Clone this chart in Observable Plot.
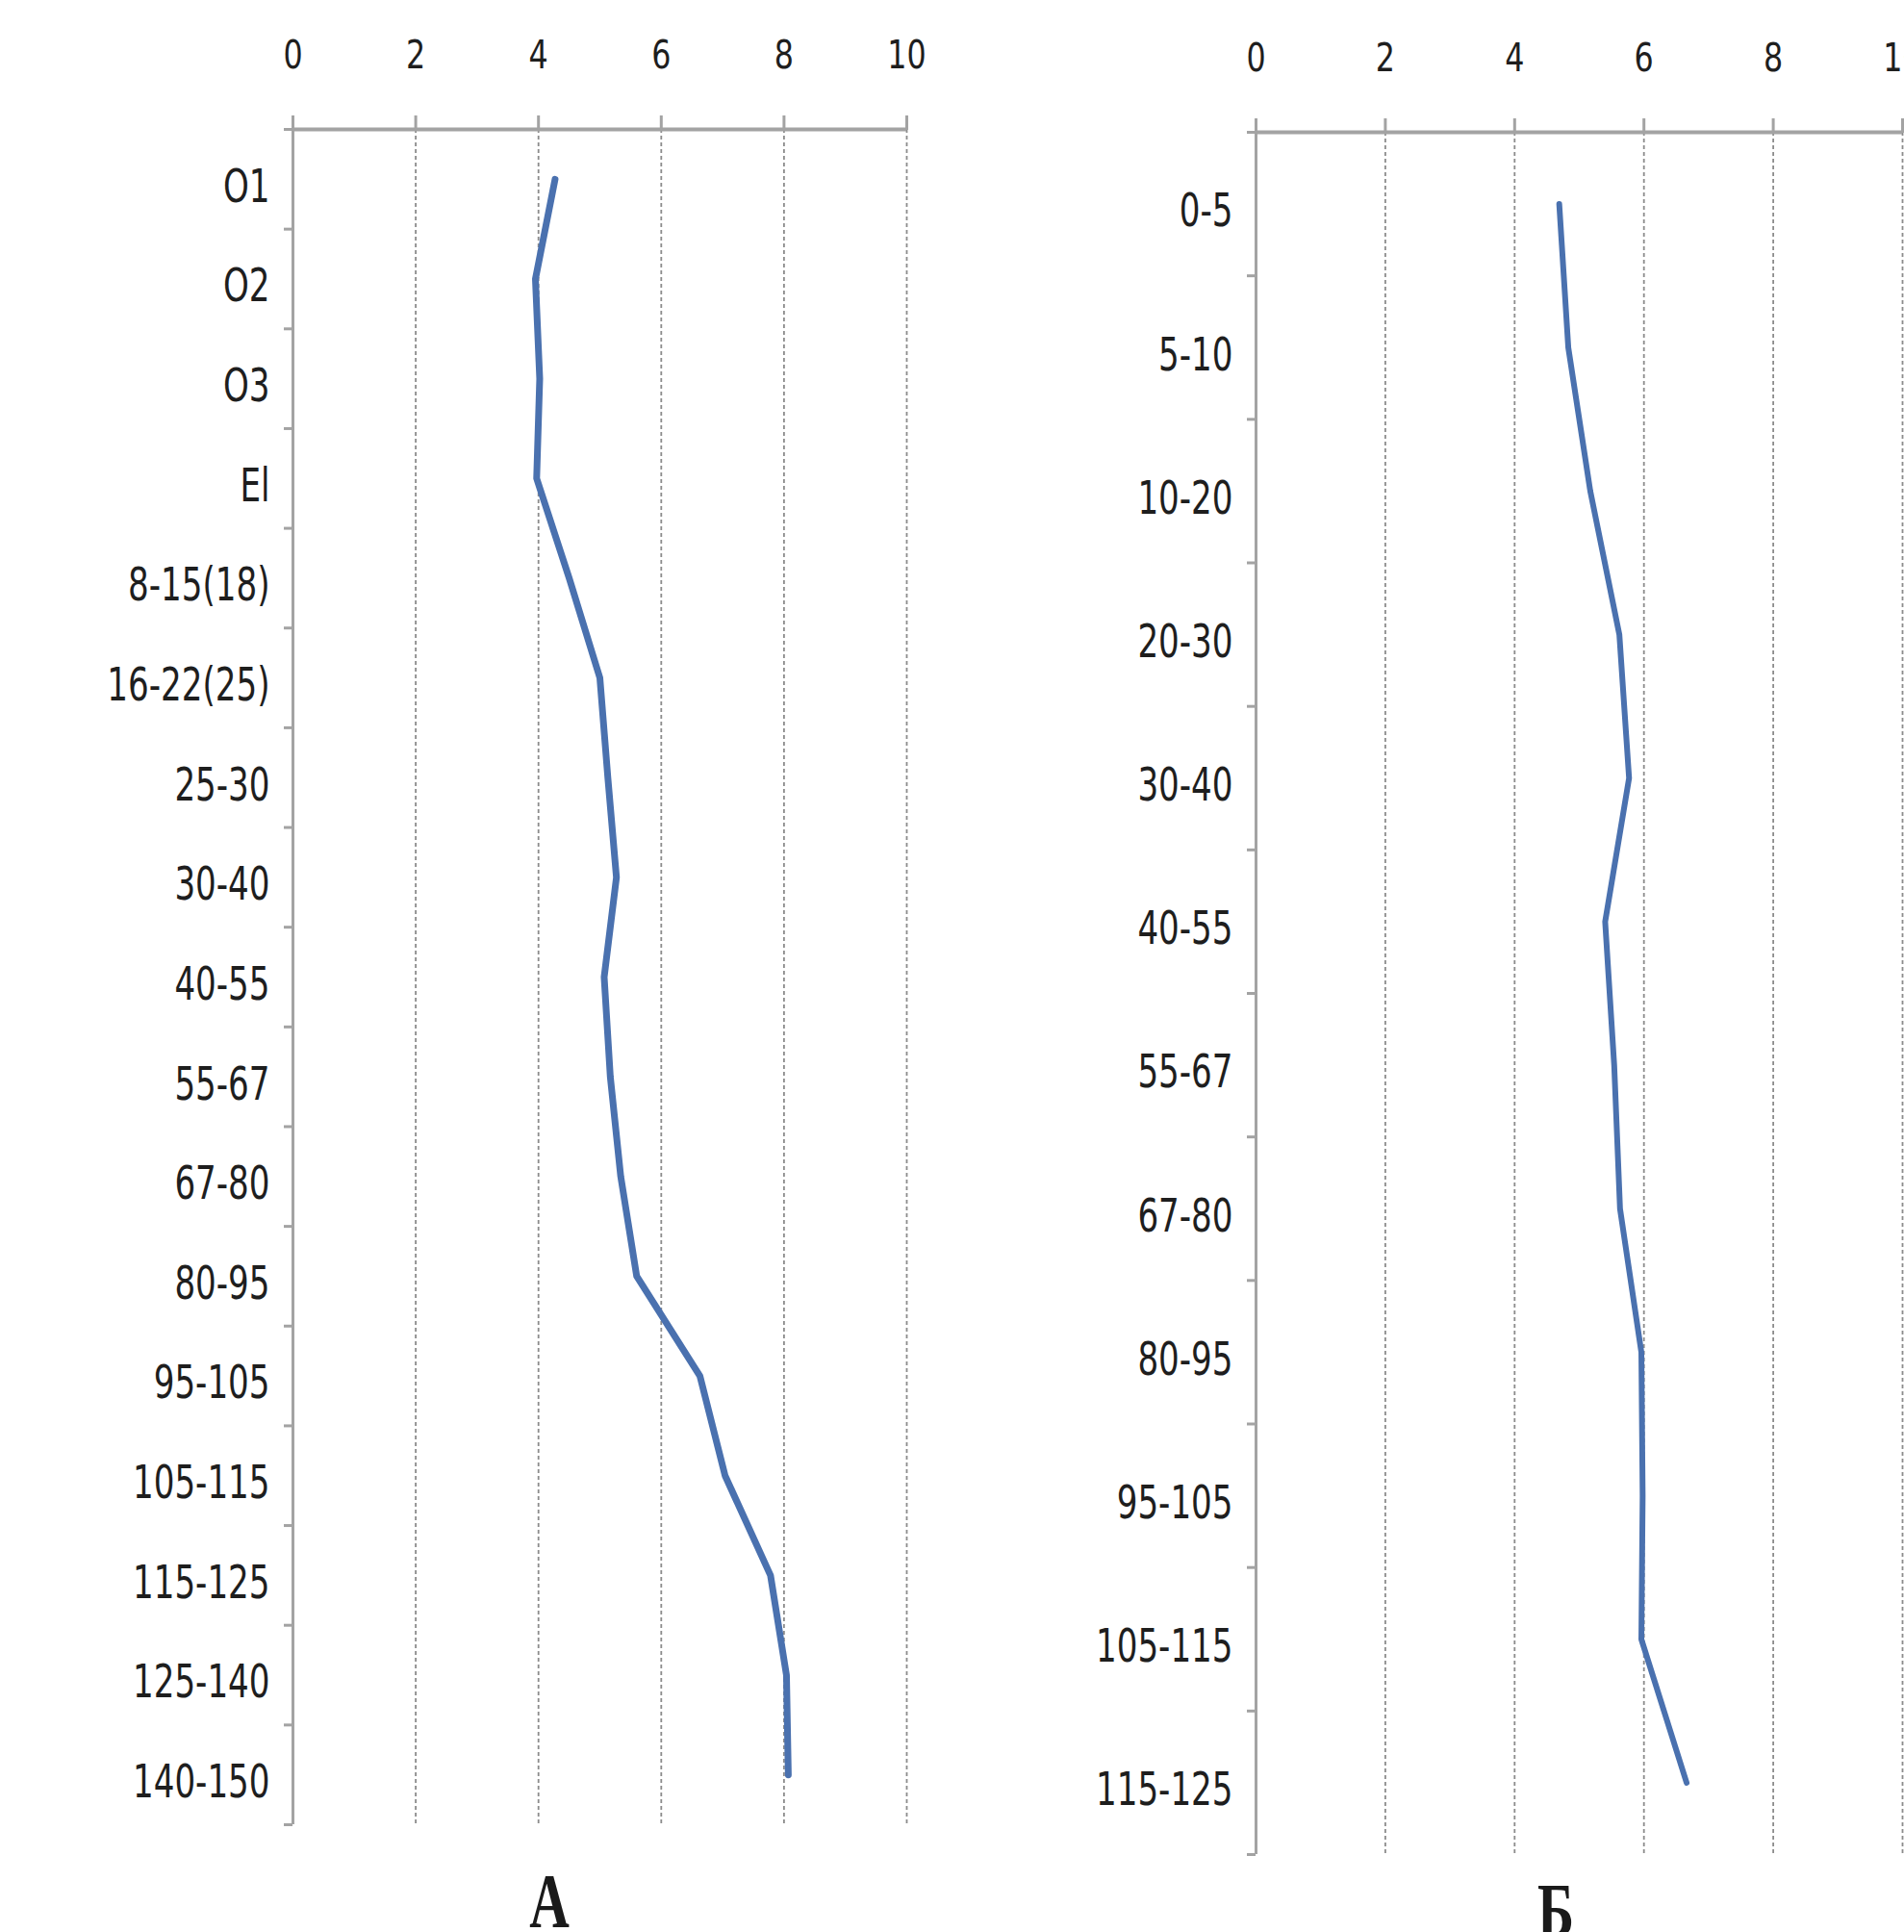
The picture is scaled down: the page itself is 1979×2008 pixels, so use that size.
<!DOCTYPE html>
<html><head><meta charset="utf-8">
<script src="https://cdn.jsdelivr.net/npm/d3@7"></script>
<script src="https://cdn.jsdelivr.net/npm/@observablehq/plot@0.6"></script>
<style>
html,body{margin:0;padding:0;width:1979px;height:2008px;overflow:hidden;background:#fff;}
.panel{position:absolute;top:0;}
#a{left:0;width:980px;}
#b{left:1000px;width:979px;}
.panel svg{overflow:visible;}
.cap{position:absolute;width:100px;text-align:center;font-family:"Liberation Serif","DejaVu Serif",serif;font-weight:bold;font-size:80px;line-height:60px;color:#1a1a1a;transform:scaleX(0.72);}
#capA{left:521px;top:1946px;}
#capB{left:1567px;top:1956px;}
</style></head><body>
<div class="panel" id="a"></div>
<div class="panel" id="b"></div>
<div class="cap" id="capA">А</div>
<div class="cap" id="capB">Б</div>
<script>
const horizonsA = ["O1","O2","O3","El","8-15(18)","16-22(25)","25-30","30-40","40-55","55-67","67-80","80-95","95-105","105-115","115-125","125-140","140-150"];
const valuesA = [4.27,3.95,4.02,3.97,4.5,5.0,5.13,5.27,5.07,5.17,5.34,5.6,6.63,7.04,7.78,8.04,8.07];
const horizonsB = ["0-5","5-10","10-20","20-30","30-40","40-55","55-67","67-80","80-95","95-105","105-115","115-125"];
const valuesB = [4.69,4.83,5.17,5.62,5.77,5.40,5.54,5.63,5.96,5.98,5.96,6.66];
const xTicks = [0,2,4,6,8,10];

const FONT = '"Liberation Sans Narrow","Arial Narrow","DejaVu Sans Condensed",sans-serif';
const AXIS = "#a3a3a3";

function panel(cats, vals, o) {
  const n = cats.length;
  const data = cats.map((c, i) => ({i, c, v: vals[i]}));
  const bounds = d3.range(n + 1).map(k => k - 0.5);
  return Plot.plot({
    width: o.width, height: o.height,
    marginTop: o.top, marginBottom: o.bottom, marginLeft: o.left, marginRight: o.right,
    style: {fontFamily: FONT, background: "transparent", overflow: "visible"},
    x: {domain: [0, 10], axis: null},
    y: {domain: [-0.5, n - 0.5], reverse: true, axis: null},
    marks: [
      Plot.gridX(xTicks.slice(1), {stroke: "#8c8c8c", strokeOpacity: 1, strokeWidth: 1.8, strokeDasharray: "4,3"}),
      Plot.ruleY([-0.5], {stroke: AXIS, strokeWidth: 4}),
      Plot.ruleX([0], {stroke: AXIS, strokeWidth: 3}),
      Plot.axisX(xTicks, {anchor: "top", label: null, tickSize: 15, tickPadding: 49, fontSize: 41, stroke: AXIS, strokeWidth: 3, fill: "#1e1e1e"}),
      Plot.axisY(bounds, {anchor: "left", label: null, tickSize: 9, tickFormat: () => "", stroke: AXIS, strokeWidth: 3}),
      Plot.axisY(d3.range(n), {anchor: "left", label: null, tickSize: 0, tickPadding: 24, tickFormat: i => cats[i], fontSize: 48, fill: "#1e1e1e", dy: 8}),
      Plot.line(data, {x: "v", y: "i", stroke: "#4a71af", strokeWidth: o.sw, strokeLinecap: "round", strokeLinejoin: "round"})
    ]
  });
}

function squeeze(root, selector, f) {
  root.querySelectorAll(selector).forEach(t => {
    const L = t.getComputedTextLength();
    if (L > 0) {
      t.setAttribute("textLength", L * f);
      t.setAttribute("lengthAdjust", "spacingAndGlyphs");
    }
  });
}

const A = document.getElementById("a");
const B = document.getElementById("b");
A.append(panel(horizonsA, valuesA, {width: 980, height: 1900, top: 134, bottom: 4, left: 304, right: 38, sw: 7}));
B.append(panel(horizonsB, valuesB, {width: 979, height: 1935, top: 137, bottom: 8, left: 305, right: 2, sw: 6}));
for (const el of [A, B]) {
  squeeze(el, 'g[aria-label="y-axis tick label"] text', 0.79);
  squeeze(el, 'g[aria-label="x-axis tick label"] text', 0.86);
}
</script>
</body></html>
